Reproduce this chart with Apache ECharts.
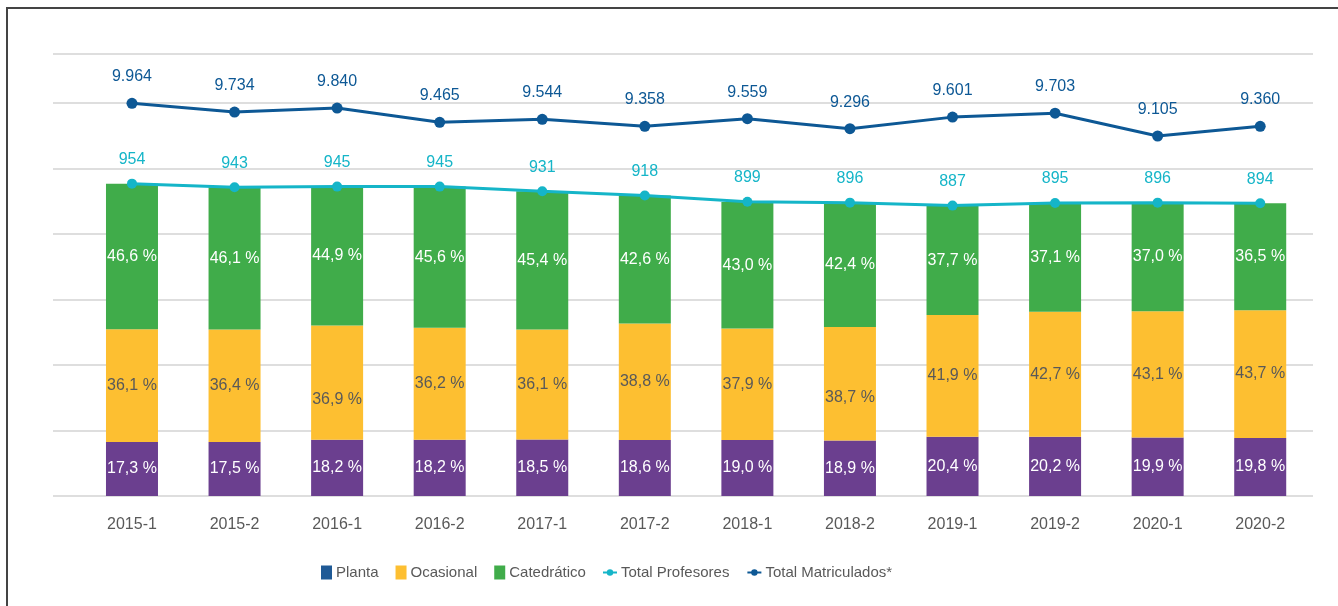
<!DOCTYPE html>
<html>
<head>
<meta charset="utf-8">
<script src="https://cdn.jsdelivr.net/npm/echarts@6/dist/echarts.min.js"></script>
<style>
  html, body { margin: 0; padding: 0; background: #fff; }
  #frame {
    position: absolute; left: 6px; top: 7px; width: 1400px; height: 700px;
    border-top: 2px solid #444; border-left: 2px solid #444;
  }
  #chart { position: absolute; left: 0; top: 0; width: 1338px; height: 606px; }
</style>
</head>
<body>
<div id="frame"></div>
<div id="chart"></div>
<script>
// periodos
var periodos = ['2015-1', '2015-2', '2016-1', '2016-2', '2017-1', '2017-2',
  '2018-1', '2018-2', '2019-1', '2019-2', '2020-1', '2020-2']
// porcentajes por tipo de vinculación
var plantaPct = [17.3, 17.5, 18.2, 18.2, 18.5, 18.6, 19.0, 18.9, 20.4, 20.2, 19.9, 19.8]
var ocasionalPct = [36.1, 36.4, 36.9, 36.2, 36.1, 38.8, 37.9, 38.7, 41.9, 42.7, 43.1, 43.7]
var catedraticoPct = [46.6, 46.1, 44.9, 45.6, 45.4, 42.6, 43.0, 42.4, 37.7, 37.1, 37.0, 36.5]
// totales
var totalProfesores = [954, 943, 945, 945, 931, 918, 899, 896, 887, 895, 896, 894]
var totalMatriculados = [9964, 9734, 9840, 9465, 9544, 9358, 9559, 9296, 9601, 9703, 9105, 9360]

var font = '"Liberation Sans", Arial, sans-serif'
var gris = '#595959'

// etiquetas movidas a mano en el original
var nudge = { Ocasional: { 2: 17, 7: 14 } }

function pctFmt(v) {
  return v.toFixed(1).replace('.', ',') + ' %'
}
function milesFmt(v) {
  return String(v).replace(/\B(?=(\d{3})+(?!\d))/g, '.')
}

function barSerie(name, pct, color, labelColor) {
  return {
    name: name,
    type: 'bar',
    stack: 'prof',
    barWidth: 52,
    itemStyle: { color: color },
    label: {
      show: true,
      position: 'inside',
      color: labelColor,
      fontSize: 16,
      fontFamily: font,
      formatter: function (p) { return pctFmt(pct[p.dataIndex]) }
    },
    data: pct.map(function (v, i) {
      var item = { value: totalProfesores[i] * v / 100 }
      if (nudge[name] && nudge[name][i]) {
        item.label = { offset: [0, nudge[name][i]] }
      }
      return item
    })
  }
}

var legendText = { color: gris, fontSize: 15, fontFamily: font, padding: [0, 0, 0, -1] }

var chart = echarts.init(document.getElementById('chart'))
chart.setOption({
  animation: false,
  grid: [
    { left: 80.7, right: 26.5, top: 54, bottom: 110 },
    { left: 53, right: 25, top: 54, bottom: 110 }
  ],
  legend: [
    {
      left: 316,
      top: 560,
      icon: 'rect',
      itemWidth: 11,
      itemHeight: 14,
      itemGap: 17,
      data: [
        { name: 'Planta', itemStyle: { color: '#1f5a96' } },
        'Ocasional', 'Catedrático'
      ],
      textStyle: legendText
    },
    {
      left: 597,
      top: 560,
      itemWidth: 14,
      itemHeight: 8,
      itemGap: 17,
      data: ['Total Profesores', 'Total Matriculados*'],
      textStyle: legendText
    }
  ],
  xAxis: [
    {
      type: 'category',
      data: periodos,
      gridIndex: 0,
      axisLine: { show: false },
      axisTick: { show: false },
      axisLabel: { color: gris, fontSize: 16, fontFamily: font, margin: 21 }
    },
    { type: 'value', gridIndex: 1, show: false }
  ],
  yAxis: [
    { type: 'value', gridIndex: 0, min: 0, max: 1350, interval: 200, show: false },
    { type: 'value', gridIndex: 0, min: -352, max: 11259, show: false },
    {
      type: 'value', gridIndex: 1, min: 0, max: 1350, interval: 200,
      axisLine: { show: false }, axisTick: { show: false }, axisLabel: { show: false },
      splitLine: { lineStyle: { color: '#d3d3d3', width: 1.5 } }
    }
  ],
  series: [
    barSerie('Planta', plantaPct, '#6b3f8f', '#ffffff'),
    barSerie('Ocasional', ocasionalPct, '#fdbf31', gris),
    barSerie('Catedrático', catedraticoPct, '#40ac4a', '#ffffff'),
    {
      name: 'Total Profesores',
      type: 'line',
      yAxisIndex: 0,
      data: totalProfesores,
      symbol: 'circle',
      symbolSize: 10,
      z: 5,
      itemStyle: { color: '#15b5c8' },
      lineStyle: { color: '#15b5c8', width: 3 },
      label: {
        show: true, position: 'top', distance: 11, color: '#15b5c8',
        fontSize: 16, fontFamily: font
      }
    },
    {
      name: 'Total Matriculados*',
      type: 'line',
      yAxisIndex: 1,
      data: totalMatriculados,
      symbol: 'circle',
      symbolSize: 11,
      z: 5,
      itemStyle: { color: '#0d5895' },
      lineStyle: { color: '#0d5895', width: 3 },
      label: {
        show: true, position: 'top', distance: 13, color: '#0d5895',
        fontSize: 16, fontFamily: font,
        formatter: function (p) { return milesFmt(p.value) }
      }
    }
  ]
})
</script>
</body>
</html>
